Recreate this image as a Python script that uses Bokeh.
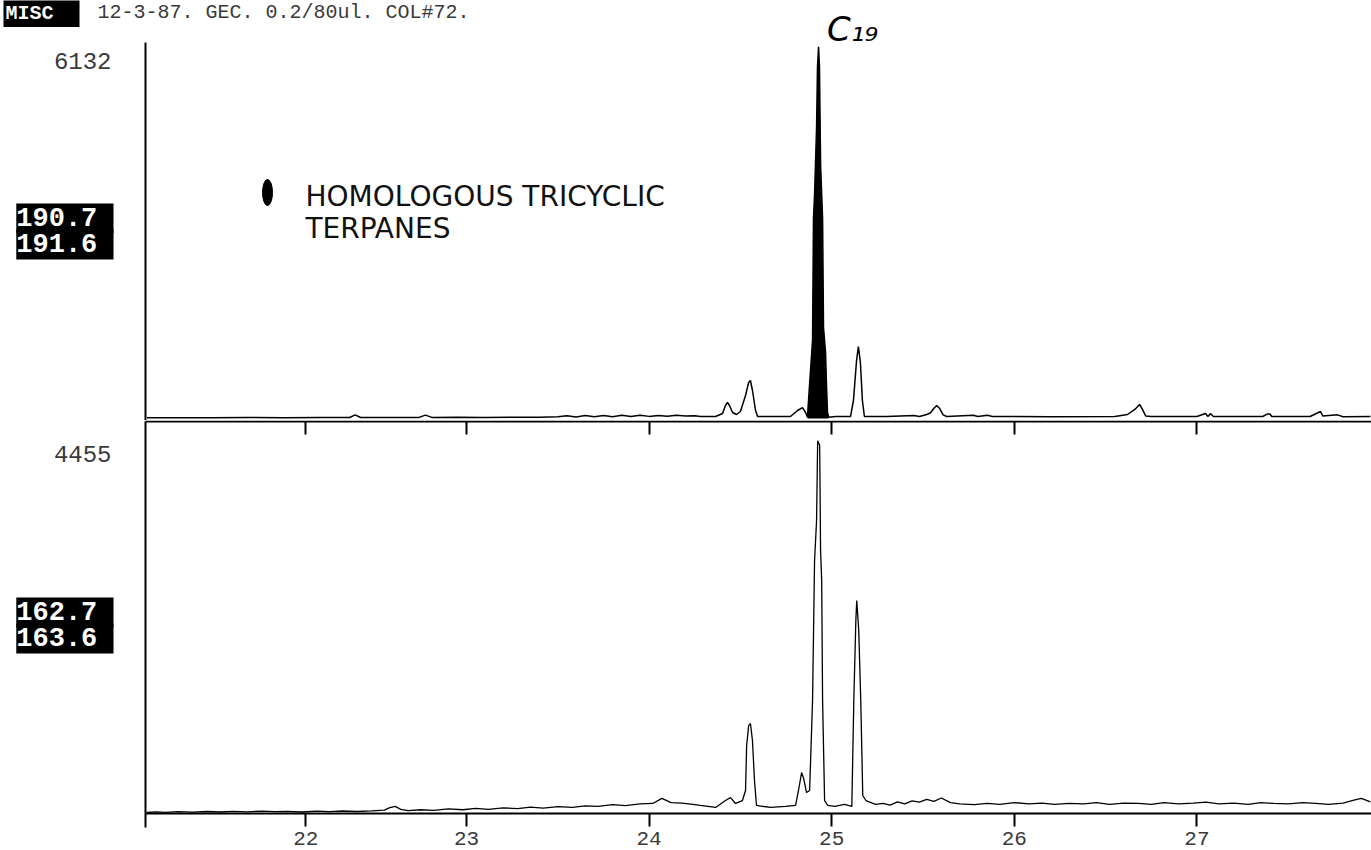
import numpy as np
from bokeh.plotting import figure
from bokeh.layouts import column
from bokeh.models import Range1d, LinearAxis, FixedTicker, Label
from bokeh.embed import file_html
from bokeh.resources import INLINE

# ---------------- data ----------------
x_start, x_end = 21.242, 27.956          # retention time (min) shown by the axes
x_ticks = [22.12, 23.0, 24.0, 25.0, 26.0, 27.0]
x_tick_labels = ["22", "23", "24", "25", "26", "27"]

top_max_label = "6132"
bottom_max_label = "4455"
top_mass = ["190.7", "191.6"]
bottom_mass = ["162.7", "163.6"]

# m/z 191 trace (top)
top_time = [21.25, 21.40, 21.60, 21.80, 22.00, 22.20, 22.36, 22.39, 22.42, 22.55,
            22.74, 22.775, 22.81, 22.95, 23.10, 23.25, 23.40, 23.50, 23.55, 23.60,
            23.65, 23.70, 23.75, 23.80, 23.85, 23.90, 23.95, 24.00, 24.05, 24.10,
            24.15, 24.20, 24.25, 24.281, 24.364, 24.402, 24.418, 24.429, 24.440, 24.457,
            24.479, 24.500, 24.528, 24.545, 24.555, 24.566, 24.583, 24.594, 24.665, 24.774,
            24.813, 24.840, 24.857, 24.867, 24.873, 24.884, 24.895, 24.900, 24.906, 24.917,
            24.922, 24.928, 24.933, 24.939, 24.945, 24.950, 24.955, 24.966, 24.972, 24.977,
            24.983, 25.021,
            25.103, 25.119, 25.136, 25.146, 25.157, 25.168, 25.179, 25.300, 25.450, 25.480,
            25.520, 25.540, 25.560, 25.575, 25.590, 25.610, 25.630, 25.776, 25.800, 25.853,
            25.880, 26.200, 26.550, 26.620, 26.660, 26.686, 26.700, 26.720, 26.750, 27.000,
            27.047, 27.060, 27.074, 27.090, 27.360, 27.387, 27.400, 27.410, 27.620, 27.677,
            27.690, 27.770, 27.800, 27.950]
top_int = [12, 14, 12, 16, 14, 15, 16, 60, 16, 18,
           18, 55, 18, 20, 18, 22, 20, 28, 45, 25,
           48, 28, 50, 30, 52, 32, 55, 35, 50, 38,
           55, 40, 45, 33, 33, 82, 215, 264, 215, 99,
           66, 115, 380, 594, 627, 462, 132, 33, 33, 33,
           132, 180, 99, 20, 300, 800, 1300, 3300, 3700, 4800,
           5800, 6132, 5800, 4200, 3700, 3300, 1500, 1100, 500, 100,
           20, 33,
           33, 297, 957, 1188, 924, 297, 33, 33, 50, 33,
           66, 90, 170, 215, 170, 60, 33, 55, 33, 55,
           33, 30, 33, 66, 150, 231, 160, 40, 33, 33,
           82, 33, 80, 33, 33, 75, 75, 33, 33, 115,
           40, 60, 30, 35]

# shaded C19 tricyclic terpane peak (time window)
c19_window = (24.865, 24.985)

# m/z 163 trace (bottom)
bottom_time = [21.25, 21.30, 21.35, 21.42, 21.50, 21.58, 21.65, 21.72, 21.80, 21.88,
               21.95, 22.02, 22.10, 22.18, 22.25, 22.32, 22.40, 22.48, 22.55, 22.58,
               22.61, 22.64, 22.68, 22.75, 22.82, 22.90, 22.98, 23.05, 23.12, 23.20,
               23.28, 23.35, 23.42, 23.50, 23.58, 23.65, 23.72, 23.80, 23.87, 23.95,
               24.02, 24.07, 24.12, 24.18, 24.24, 24.281, 24.364, 24.418, 24.446, 24.473,
               24.511, 24.528, 24.534, 24.545, 24.555, 24.566, 24.577, 24.588, 24.665, 24.747,
               24.802, 24.818, 24.835, 24.846, 24.862, 24.879, 24.895, 24.906, 24.917, 24.923,
               24.934, 24.939, 24.945, 24.950, 24.961, 24.978, 25.016, 25.071, 25.110, 25.121,
               25.132, 25.137, 25.148, 25.159, 25.170, 25.187, 25.240, 25.28, 25.32, 25.36,
               25.40, 25.44, 25.48, 25.52, 25.56, 25.60, 25.65, 25.70, 25.78, 25.85,
               25.92, 26.00, 26.08, 26.15, 26.22, 26.30, 26.38, 26.45, 26.52, 26.60,
               26.68, 26.75, 26.82, 26.90, 26.98, 27.05, 27.12, 27.20, 27.28, 27.35,
               27.42, 27.50, 27.58, 27.65, 27.72, 27.80, 27.86, 27.90, 27.95]
bottom_int = [12, 20, 14, 22, 16, 24, 18, 26, 20, 28,
              22, 25, 18, 28, 22, 30, 24, 32, 40, 70,
              85, 50, 35, 45, 38, 55, 45, 62, 50, 68,
              58, 75, 65, 82, 72, 92, 85, 105, 95, 115,
              120, 180, 130, 125, 110, 96, 72, 155, 190, 120,
              155, 275, 810, 1050, 1075, 870, 395, 96, 72, 84,
              96, 275, 490, 420, 250, 275, 1350, 3020, 3500, 4455,
              4400, 3140, 2785, 1350, 155, 96, 84, 108, 84, 1350,
              2300, 2545, 2190, 1350, 215, 155, 108, 120, 100, 140,
              115, 150, 135, 170, 145, 185, 130, 115, 105, 120,
              110, 130, 115, 125, 110, 120, 115, 130, 110, 125,
              120, 110, 130, 115, 125, 135, 115, 125, 110, 130,
              120, 115, 130, 120, 110, 125, 160, 180, 140]

header_tag = "MISC"
header_text = "12-3-87. GEC. 0.2/80ul. COL#72."
legend_lines = ["HOMOLOGOUS TRICYCLIC", "TERPANES"]
peak_name = "C\u2081\u2089"

# ---------------- styling helpers ----------------
MONO = "Liberation Mono"
SANS = "DejaVu Sans"
GREY = "#3a3a3a"
PX_PER_MIN = 182.6
LEFT_PX = 145

def clean(p):
    p.outline_line_color = None
    p.grid.visible = False
    p.background_fill_color = "white"
    p.border_fill_color = "white"

def px_t(px):
    return x_start + (px - LEFT_PX) / PX_PER_MIN

def top_y(py):
    return (418 - py) * 16.5

def bot_y(py):
    return (813 - py) * 11.95

xr = Range1d(px_t(0), x_end)

# ---------------- top panel ----------------
p1 = figure(width=1371, height=420, x_range=xr, y_range=Range1d(top_y(420), top_y(0)),
            output_backend="svg", toolbar_location=None,
            x_axis_location=None, y_axis_location=None,
            min_border_left=0, min_border_right=0, min_border_top=0, min_border_bottom=0)
clean(p1)
ya1 = LinearAxis(fixed_location=x_start, bounds=(top_y(420), top_y(42)),
                 ticker=FixedTicker(ticks=[]), axis_line_width=2,
                 major_tick_out=0, minor_tick_out=0)
p1.add_layout(ya1, "left")

tt = np.array(top_time)
ti = np.array(top_int)
m = (tt >= c19_window[0]) & (tt <= c19_window[1])
p1.varea(x=tt[m], y1=np.zeros(m.sum()), y2=ti[m], color="black")
p1.line(tt, ti, line_color="black", line_width=1.5)

p1.add_layout(Label(x=px_t(3), y=top_y(13), text=" " + header_tag + " ", text_font=MONO,
                    text_font_style="bold", text_font_size="20px", text_color="white",
                    text_baseline="middle", background_fill_color="black",
                    padding=2))
p1.add_layout(Label(x=px_t(97), y=top_y(12), text=header_text, text_font=MONO,
                    text_font_size="20px", text_color=GREY, text_baseline="middle"))
p1.add_layout(Label(x=px_t(111), y=top_y(60), text=top_max_label, text_font=MONO,
                    text_font_size="24px", text_color=GREY, text_baseline="middle",
                    text_align="right"))
for i, s in enumerate(top_mass):
    p1.add_layout(Label(x=px_t(113), y=top_y(218 + 26 * i), text=" " + s, text_font=MONO,
                        text_font_style="bold", text_font_size="27px", text_color="white",
                        text_baseline="middle", text_align="right",
                        background_fill_color="black"))
p1.ellipse(x=[px_t(267)], y=[top_y(192)], width=10, height=26,
           width_units="screen", height_units="screen", color="black")
for i, s in enumerate(legend_lines):
    p1.add_layout(Label(x=px_t(305), y=top_y(196 + 32 * i), text=s, text_font=SANS,
                        text_font_size="28px", text_color="#111111", text_baseline="middle"))
p1.add_layout(Label(x=px_t(852), y=top_y(28), text=peak_name, text_font="DejaVu Sans",
                    text_font_style="italic", text_font_size="34px", text_color="black",
                    text_baseline="middle", text_align="center"))

# ---------------- bottom panel ----------------
p2 = figure(width=1371, height=430, x_range=xr, y_range=Range1d(bot_y(850), bot_y(420)),
            output_backend="svg", toolbar_location=None,
            x_axis_location=None, y_axis_location=None,
            min_border_left=0, min_border_right=0, min_border_top=0, min_border_bottom=0)
clean(p2)

ya2 = LinearAxis(fixed_location=x_start, bounds=(bot_y(813), bot_y(421)),
                 ticker=FixedTicker(ticks=[]), axis_line_width=2,
                 major_tick_out=0, minor_tick_out=0)
p2.add_layout(ya2, "left")

overrides = {t: lab for t, lab in zip(x_ticks, x_tick_labels)}
xa = LinearAxis(fixed_location=bot_y(813), bounds=(x_start, x_end),
                ticker=FixedTicker(ticks=x_ticks),
                major_label_overrides=overrides,
                axis_line_width=2, major_tick_out=13, major_tick_in=0,
                major_tick_line_width=2, minor_tick_out=0, minor_tick_in=0,
                major_label_standoff=5, major_label_text_font=MONO,
                major_label_text_font_size="21px", major_label_text_color=GREY)
p2.add_layout(xa, "below")

# small downward extension of the left axis below the baseline
p2.segment(x0=[x_start], y0=[bot_y(813)], x1=[x_start], y1=[bot_y(827)],
           line_color="black", line_width=2)

top_axis = LinearAxis(fixed_location=bot_y(421), bounds=(x_start, x_end),
                      ticker=FixedTicker(ticks=x_ticks), major_tick_in=13, major_tick_out=0,
                      major_tick_line_width=2, minor_tick_out=0, minor_tick_in=0,
                      axis_line_width=2,
                      major_label_overrides={t: "" for t in x_ticks},
                      major_label_standoff=0)
p2.add_layout(top_axis, "above")

p2.line(bottom_time, bottom_int, line_color="black", line_width=1.3)

p2.add_layout(Label(x=px_t(111), y=bot_y(453), text=bottom_max_label, text_font=MONO,
                    text_font_size="24px", text_color=GREY, text_baseline="middle",
                    text_align="right"))
for i, s in enumerate(bottom_mass):
    p2.add_layout(Label(x=px_t(113), y=bot_y(612 + 26 * i), text=" " + s, text_font=MONO,
                        text_font_style="bold", text_font_size="27px", text_color="white",
                        text_baseline="middle", text_align="right",
                        background_fill_color="black"))

layout = column(p1, p2, spacing=0)
open("out.html", "w").write(file_html(layout, INLINE))
